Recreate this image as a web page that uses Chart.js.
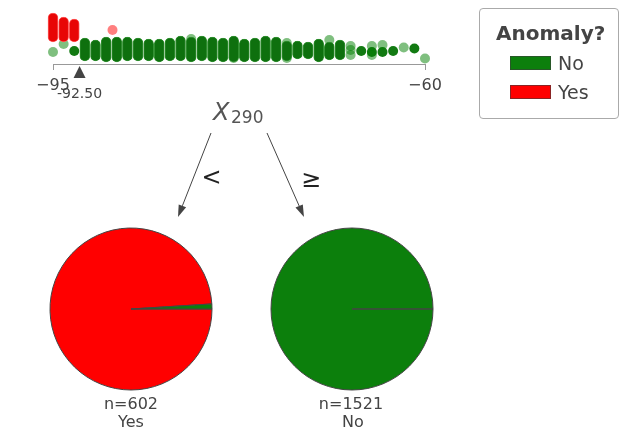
<!DOCTYPE html>
<html><head><meta charset="utf-8">
<script src="https://cdn.jsdelivr.net/npm/chart.js@4/dist/chart.umd.min.js"></script>
<style>
html,body{margin:0;padding:0;background:#fff;}
#root{position:relative;width:619px;height:431px;overflow:hidden;font-family:"DejaVu Sans",sans-serif;color:#444;}
.t{position:absolute;white-space:nowrap;line-height:1;}
canvas{position:absolute;}
</style></head><body>
<div id="root">
<canvas id="strip" width="619" height="100" style="left:0;top:0"></canvas>
<canvas id="pieL" width="170" height="170" style="left:46px;top:224px"></canvas>
<canvas id="pieR" width="170" height="170" style="left:267px;top:224px"></canvas>
<svg width="619" height="431" style="position:absolute;left:0;top:0">
  <line x1="211" y1="133" x2="182.4" y2="205.8" stroke="#444" stroke-width="1"/>
  <polygon points="178,217 186.1,207.3 178.7,204.4" fill="#444"/>
  <line x1="267" y1="133" x2="299.2" y2="206" stroke="#444" stroke-width="1"/>
  <polygon points="304,217 302.8,204.4 295.5,207.6" fill="#444"/>
</svg>
<div style="position:absolute;left:479px;top:8px;width:140px;height:111px;border:1px solid #aaa;border-radius:4px;box-sizing:border-box;"></div>
<div id="swNo" style="position:absolute;left:510px;top:56px;width:41px;height:14px;box-sizing:border-box;border:1px solid rgba(60,60,60,0.6);"></div>
<div id="swYes" style="position:absolute;left:510px;top:85px;width:41px;height:14px;box-sizing:border-box;border:1px solid rgba(60,60,60,0.6);"></div>
</div>
<script>
// ---- data ----
const classNames = ['No', 'Yes'];
const legendTitle = 'Anomaly?';
const featureName = 'X';
const featureIndex = '290';
const xMin = -95, xMax = -60;
const xTickValues = [-95, -60];
const splitValue = -92.5;
const splitLabel = '-92.50';

// strip plot: stacked (overlapping) points drawn as columns [low, high] of vertical jitter
const noColX    = [-92,-91,-90,-89,-88,-87,-86,-85,-84,-83,-82,-81,-80,-79,-78,-77,-76,-75,-74,-73,-72,-71,-70,-69,-68];
const noColLow  = [  3,  3,  2,  2,  3,  3,  3,  2,  3,  3,  2,  3,  2,  2,  2,  2,  2,  2,  2,  3,  5,  5,  2,  4,  4];
const noColHigh = [ 26, 24, 27, 27, 27, 26, 25, 25, 26, 28, 27, 28, 27, 26, 28, 25, 26, 28, 27, 23, 23, 22, 25, 22, 24];
const yesColX    = [-95, -94, -93];
const yesColLow  = [ 22,  22,  22];
const yesColHigh = [ 51,  47,  45];
// single / sparse points
const noLightX = [-95, -94, -82, -78, -73, -73, -69, -67, -67, -67, -65, -65, -64, -62, -60];
const noLightY = [ 12,  20,  25,   6,  21,   6,  24,  18,  14,   9,  18,   9,  19, 16.5, 5.5];
const noDarkX  = [-93, -66, -65, -64, -63, -61];
const noDarkY  = [ 13,  13,  12,  12,  13, 15.5];
const yesLightX = [-89.4];
const yesLightY = [34];

// leaf pies (order: Yes, No)
const pieLabels = ['Yes', 'No'];
const leftCounts  = [596, 6];
const rightCounts = [0, 1521];
const leftN = 602, rightN = 1521;
const leftPred = 'Yes', rightPred = 'No';

// ---- colours ----
const GREEN = '#0c7f0c', RED = '#ff0000', TXT = '#444';
document.getElementById('swNo').style.background = GREEN;
document.getElementById('swYes').style.background = RED;

const root = document.getElementById('root');
function label(text, x, baseline, size, opts = {}) {
  const d = document.createElement('div');
  d.className = 't';
  d.textContent = text;
  d.style.fontSize = size + 'px';
  d.style.top = (baseline - 0.846 * size) + 'px';
  d.style.left = x + 'px';
  if (opts.center) d.style.transform = 'translateX(-50%)';
  if (opts.bold) d.style.fontWeight = 'bold';
  if (opts.italic) d.style.fontStyle = 'italic';
  d.style.color = opts.color || TXT;
  root.appendChild(d);
  return d;
}

const splitMarker = {
  id: 'splitMarker',
  afterDraw(chart) {
    const ctx = chart.ctx, x = chart.scales.x.getPixelForValue(splitValue);
    const y0 = chart.chartArea.bottom + 2;
    ctx.save();
    ctx.fillStyle = TXT;
    ctx.beginPath();
    ctx.moveTo(x, y0);
    ctx.lineTo(x + 6, y0 + 12);
    ctx.lineTo(x - 6, y0 + 12);
    ctx.closePath();
    ctx.fill();
    ctx.restore();
  }
};

const ptDefaults = {type: 'scatter', pointRadius: 5, pointHoverRadius: 5, borderWidth: 0, clip: false};
const strip = new Chart(document.getElementById('strip'), {
  type: 'bar',
  data: {
    datasets: [
      {type: 'bar', data: noColX.map((x, i) => ({x, y: [noColLow[i], noColHigh[i]]})),
       backgroundColor: '#0e700e', borderColor: 'rgba(50,145,50,1)', borderWidth: 1,
       barThickness: 10, borderRadius: 5, borderSkipped: false, grouped: false, clip: false},
      {type: 'bar', data: yesColX.map((x, i) => ({x, y: [yesColLow[i], yesColHigh[i]]})),
       backgroundColor: '#e80606', borderColor: 'rgba(255,90,90,1)', borderWidth: 1,
       barThickness: 10, borderRadius: 5, borderSkipped: false, grouped: false, clip: false},
      {...ptDefaults, data: noLightX.map((x, i) => ({x, y: noLightY[i]})), backgroundColor: 'rgba(0,128,0,0.5)'},
      {...ptDefaults, data: noDarkX.map((x, i) => ({x, y: noDarkY[i]})), backgroundColor: '#127a12'},
      {...ptDefaults, data: yesLightX.map((x, i) => ({x, y: yesLightY[i]})), backgroundColor: 'rgba(255,0,0,0.5)'}
    ]
  },
  options: {
    responsive: false, animation: false, events: [],
    layout: {padding: {left: 53, right: 194, top: 10, bottom: 0}},
    plugins: {legend: {display: false}, tooltip: {enabled: false}},
    scales: {
      x: {
        type: 'linear', min: xMin, max: xMax, offset: false,
        afterBuildTicks: s => { s.ticks = xTickValues.map(v => ({value: v})); },
        afterFit: s => { s.height = 36; },
        ticks: {callback: v => (v < 0 ? '\u2212' : '') + Math.abs(v), font: {family: 'DejaVu Sans', size: 16},
                color: TXT, padding: 6, maxRotation: 0, autoSkip: false},
        grid: {display: true, drawOnChartArea: false, drawTicks: true, tickLength: 6, color: '#999', offset: false},
        border: {display: true, color: '#999', width: 1}
      },
      y: {display: false, min: 0, max: 54}
    }
  },
  plugins: [splitMarker]
});

label(splitLabel, strip.scales.x.getPixelForValue(splitValue), 98, 14, {center: true});

function pie(id, counts) {
  return new Chart(document.getElementById(id), {
    type: 'pie',
    data: {labels: pieLabels, datasets: [{data: counts, backgroundColor: [RED, GREEN], borderColor: '#444', borderWidth: 1}]},
    options: {responsive: false, animation: false, events: [], rotation: 90, radius: 81,
      plugins: {legend: {display: false}, tooltip: {enabled: false}}}
  });
}
pie('pieL', leftCounts);
pie('pieR', rightCounts);

// node / leaf text
label(featureName, 213, 120, 24, {italic: true, color: '#555'});
label(featureIndex, 231, 123, 17, {color: '#555'});
label('<', 211.5, 185, 24, {center: true, color: '#222'});
label('\u2265', 311, 187, 24, {center: true, color: '#222'});
label('n=' + leftN, 131, 410, 16, {center: true});
label(leftPred, 131, 428, 16, {center: true});
label('n=' + rightN, 351, 410, 16, {center: true});
label(rightPred, 353, 428, 16, {center: true});

// legend text
label(legendTitle, 496, 40, 20, {bold: true});
label(classNames[0], 558, 70, 19);
label(classNames[1], 558, 99, 19);
</script>
</body></html>
